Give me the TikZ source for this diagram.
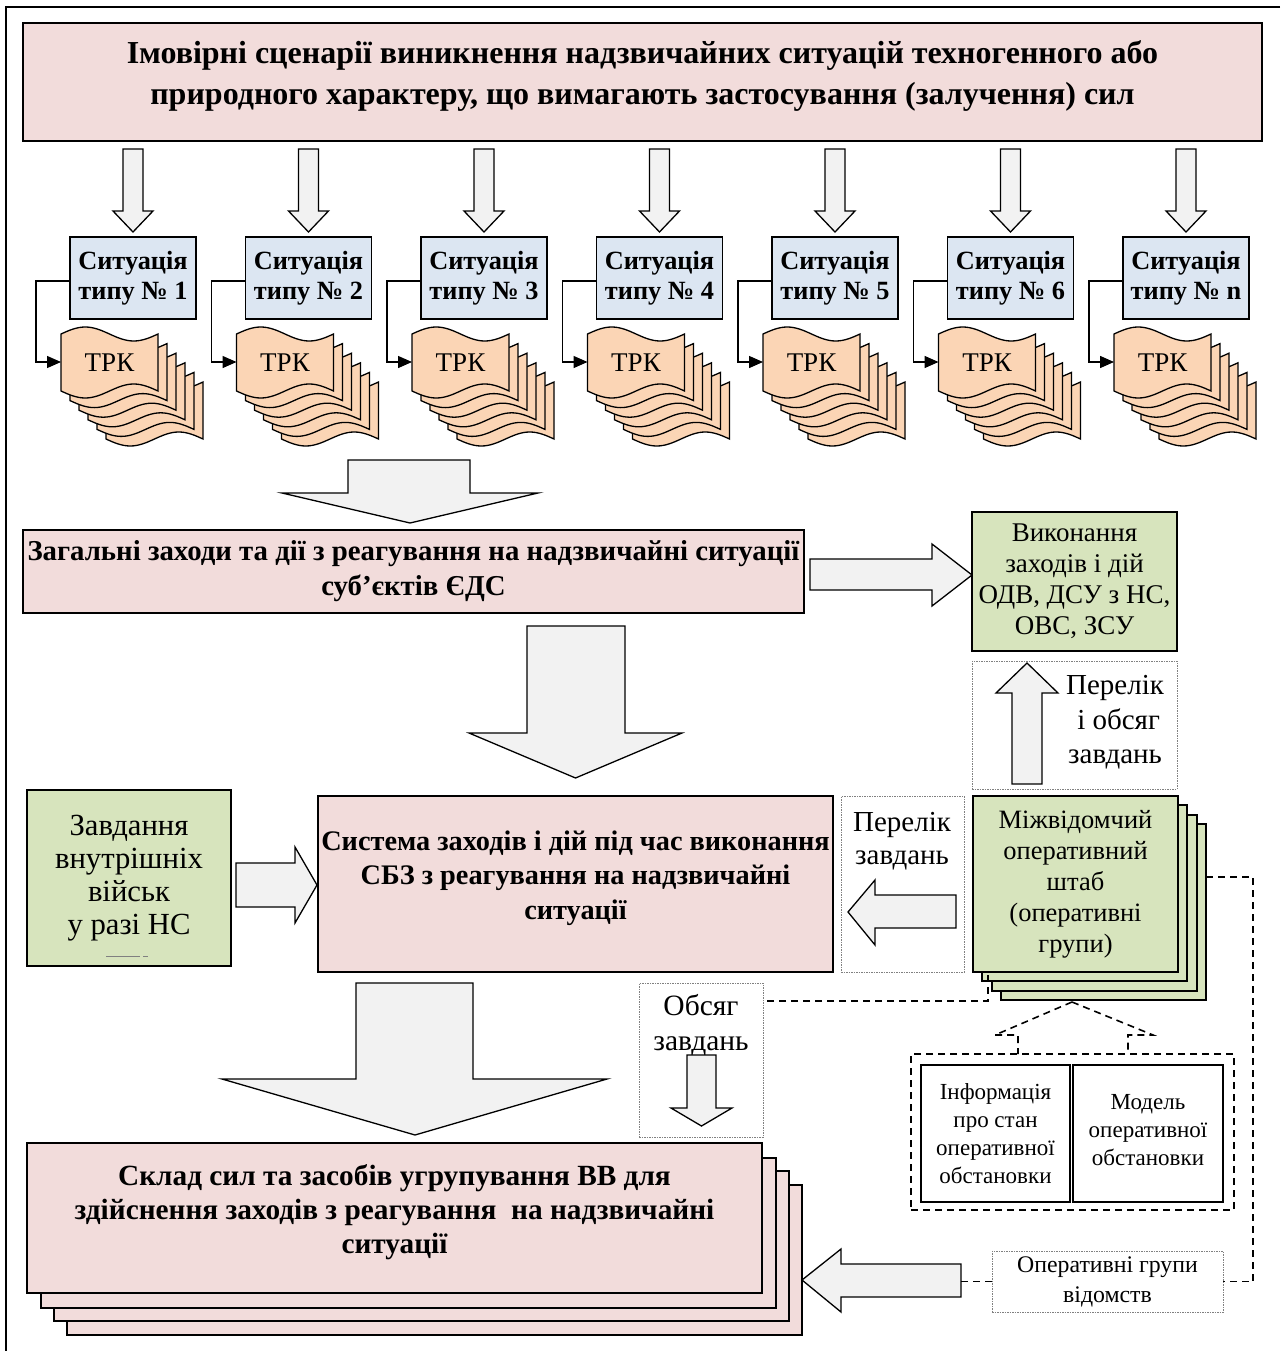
\documentclass[tikz,border=0pt]{standalone}
\usepackage{fontspec}
\setmainfont{Liberation Serif}
\usetikzlibrary{arrows.meta}
\definecolor{pinkc}{HTML}{F2DCDB}
\definecolor{bluec}{HTML}{DCE6F2}
\definecolor{peachc}{HTML}{FBD5B5}
\definecolor{greenc}{HTML}{D7E4BD}
\definecolor{arrc}{HTML}{F2F2F2}
\definecolor{dotc}{HTML}{808080}
\newcommand\myfs[2]{\fontsize{#1}{#2}\selectfont}
\newcommand\trkdoc[3]{%
  \path[doc] (#1,#2) sin ++(24.25,-7) cos ++(24.25,7) sin ++(24.25,7) cos ++(24.25,-7)
    -- (#1+97,#3) sin ++(-24.25,-7) cos ++(-24.25,7) sin ++(-24.25,7) cos ++(-24.25,-7) -- cycle;}
\begin{document}
\begin{tikzpicture}[x=1pt,y=-1pt,
  bx/.style={draw=black,line width=1.5pt,inner sep=0pt,align=center},
  dotbox/.style={draw=dotc,line width=0.8pt,dash pattern=on 1.5pt off 1pt,inner sep=0pt},
  barrow/.style={draw=black,fill=arrc,line width=1.3pt,line join=miter},
  dline/.style={draw=black,line width=1.6pt,dash pattern=on 7pt off 5pt},
  conn/.style={draw=black,line width=1.4pt,-{Triangle[length=14pt,width=12pt]}},
  txt/.style={align=center,inner sep=0pt},
  doc/.style={draw=black,fill=peachc,line width=1.3pt,line join=miter}
]
\useasboundingbox (0,0) rectangle (1280,1351);
% frame
\draw[line width=1.5pt] (1280,7) -- (6,7) -- (6,1351);

% title
\node[bx,fill=pinkc,minimum width=1239,minimum height=118] (title) at (642.5,82) {};
\node[txt,font=\bfseries\myfs{32}{41}] (titlet) at (642.5,76)
  {Імовірні сценарії виникнення надзвичайних ситуацій техногенного або\\природного характеру, що вимагають застосування (залучення) сил};

% situations
\foreach \i/\lab in {0/1,1/2,2/3,3/4,4/5,5/6,6/n} {
  \pgfmathsetmacro\cx{133+175.5*\i}
  \path[barrow] (\cx-10,149) -- (\cx+10,149) -- (\cx+10,211) -- (\cx+20,211) -- (\cx,232) -- (\cx-20,211) -- (\cx-10,211) -- cycle;
  \node[bx,fill=bluec,minimum width=126,minimum height=82,font=\bfseries\myfs{26.3}{30}] (s\i) at (\cx,278) {Ситуація\\типу № \lab};
  \foreach \k in {5,4,...,0} {
    \pgfmathsetmacro\xo{\cx-72+9*\k}
    \pgfmathsetmacro\yt{334+9.6*\k}
    \pgfmathsetmacro\yb{391+9.6*\k}
    \trkdoc{\xo}{\yt}{\yb}
  }
  \node[txt,font=\myfs{27}{30}] (r\i) at (\cx-23.5,363) {ТРК};
  \coordinate (k\i) at (\cx-97,281);
  \coordinate (d\i) at (\cx-72,362);
  \draw[conn] ([yshift=-3pt]s\i.west) -- (k\i) |- (d\i);
}

% wide arrow 1
\path[barrow] (348,460) -- (470,460) -- (470,493) -- (538,493) -- (410,523) -- (282,493) -- (348,493) -- cycle;

% general measures
\node[bx,fill=pinkc,minimum width=781,minimum height=83,font=\bfseries\myfs{28.8}{35}] (zag) at (413.5,571.5)
  {Загальні заходи та дії з реагування на надзвичайні ситуації\\суб’єктів ЄДС};
\path[barrow] (810,559) -- (932,559) -- (932,544) -- (972,575) -- (932,606) -- (932,590) -- (810,590) -- cycle;
\node[bx,fill=greenc,minimum width=205,minimum height=139,font=\myfs{27}{31}] (vyk) at (1074.5,581.5)
  {Виконання\\заходів і дій\\ОДВ, ДСУ з НС,\\ОВС, ЗСУ};

% wide arrow 2
\path[barrow] (527,626) -- (625,626) -- (625,733) -- (682,733) -- (575.5,778) -- (469,733) -- (527,733) -- cycle;

% list and volume
\node[dotbox,minimum width=205,minimum height=128] (per1) at (1074.5,725) {};
\path[barrow] (1012,784) -- (1012,693) -- (996,693) -- (1027,663) -- (1058,693) -- (1042,693) -- (1042,784) -- cycle;
\node[txt,font=\myfs{29}{34.5}] (per1t) at (1115,722.5) {Перелік\\~і обсяг\\завдань};

% tasks of internal troops
\node[bx,fill=greenc,minimum width=204,minimum height=176,font=\myfs{30.7}{33}] (zavd) at (129,878)
  {Завдання\\внутрішніх\\військ\\у разі НС};
\draw[dotc,line width=0.6pt] (106,956) -- (140,956) (143,956) -- (148,956);
\path[barrow] (236,863) -- (295,863) -- (295,847) -- (317,885) -- (295,923) -- (295,907) -- (236,907) -- cycle;

% system
\node[bx,fill=pinkc,minimum width=515,minimum height=176] (sys) at (575.5,884) {};
\node[txt,font=\bfseries\myfs{28.3}{34.5}] (syst) at (575.5,878)
  {Система заходів і дій під час виконання\\СБЗ з реагування на надзвичайні\\ситуації};

% list of tasks
\node[dotbox,minimum width=123,minimum height=176] (per2) at (902.5,884) {};
\node[txt,font=\myfs{29}{33}] (per2t) at (902,841.5) {Перелік\\завдань};
\path[barrow] (956,895) -- (875,895) -- (875,880) -- (848,912) -- (875,945) -- (875,928) -- (956,928) -- cycle;

% HQ stack
\foreach \k in {28,19,9} {
  \path[bx,fill=greenc] (973+\k,796+\k) rectangle (1178+\k,972+\k);
}
\node[bx,fill=greenc,minimum width=205,minimum height=176,font=\myfs{26.5}{31}] (sht) at (1075.5,884)
  {Міжвідомчий\\оперативний\\штаб\\(оперативні\\групи)};

% volume of tasks
\node[dotbox,minimum width=124,minimum height=154] (obs) at (701,1060) {};
\node[txt,font=\myfs{29.5}{35}] (obst) at (701,1025.5) {Обсяг\\завдань};
\path[barrow] (687,1055) -- (716,1055) -- (716,1108) -- (732,1108) -- (701.5,1126) -- (671,1108) -- (687,1108) -- cycle;

% wide arrow 3
\path[barrow] (356,983) -- (473,983) -- (473,1079) -- (607,1079) -- (415,1135) -- (222,1079) -- (356,1079) -- cycle;

% info container
\node[dline,minimum width=323,minimum height=156,inner sep=0pt] (cont) at (1072.5,1132) {};
\node[bx,fill=white,minimum width=149,minimum height=137,font=\myfs{23}{28}] (info) at (995.5,1133.5)
  {Інформація\\про стан\\оперативної\\обстановки};
\node[bx,fill=white,minimum width=150,minimum height=137] (model) at (1148,1133.5) {};
\node[txt,font=\myfs{23}{28}] (modelt) at (1148,1130) {Модель\\оперативної\\обстановки};

% operational groups
\node[dotbox,minimum width=231,minimum height=61,font=\myfs{23.8}{30},align=center] (opgr) at (1107.5,1281.5)
  {Оперативні групи\\відомств};

% composition stack
\foreach \dx/\dy in {40/42,27/28,14/15} {
  \path[bx,fill=pinkc] (27+\dx,1143+\dy) rectangle (762+\dx,1293+\dy);
}
\node[bx,fill=pinkc,minimum width=735,minimum height=150] (sklad) at (394.5,1218) {};
\node[txt,font=\bfseries\myfs{29.3}{34}] (skladt) at (394.5,1212)
  {Склад сил та засобів угрупування ВВ для\\здійснення заходів з реагування~ на надзвичайні\\ситуації};
\path[barrow] (961,1264) -- (841,1264) -- (841,1249) -- (802,1280) -- (841,1312) -- (841,1297) -- (961,1297) -- cycle;

% dashed connectors
\coordinate (c1) at (763,1001);
\coordinate (c2) at (961,1281.5);
\coordinate (apex) at (1072,1002);
\draw[dline] (988,975) -- (988,1001) -- (c1);
\draw[dline] (1206,877) -- (1253,877) -- (1253,1281.5) -- (opgr.east);
\draw[dline] (opgr.west) -- (c2);
\draw[dline] (apex) -- (995,1035) -- (1018,1035) -- (1018,1054);
\draw[dline] (apex) -- (1153,1035) -- (1128,1035) -- (1128,1054);
\end{tikzpicture}
\end{document}
